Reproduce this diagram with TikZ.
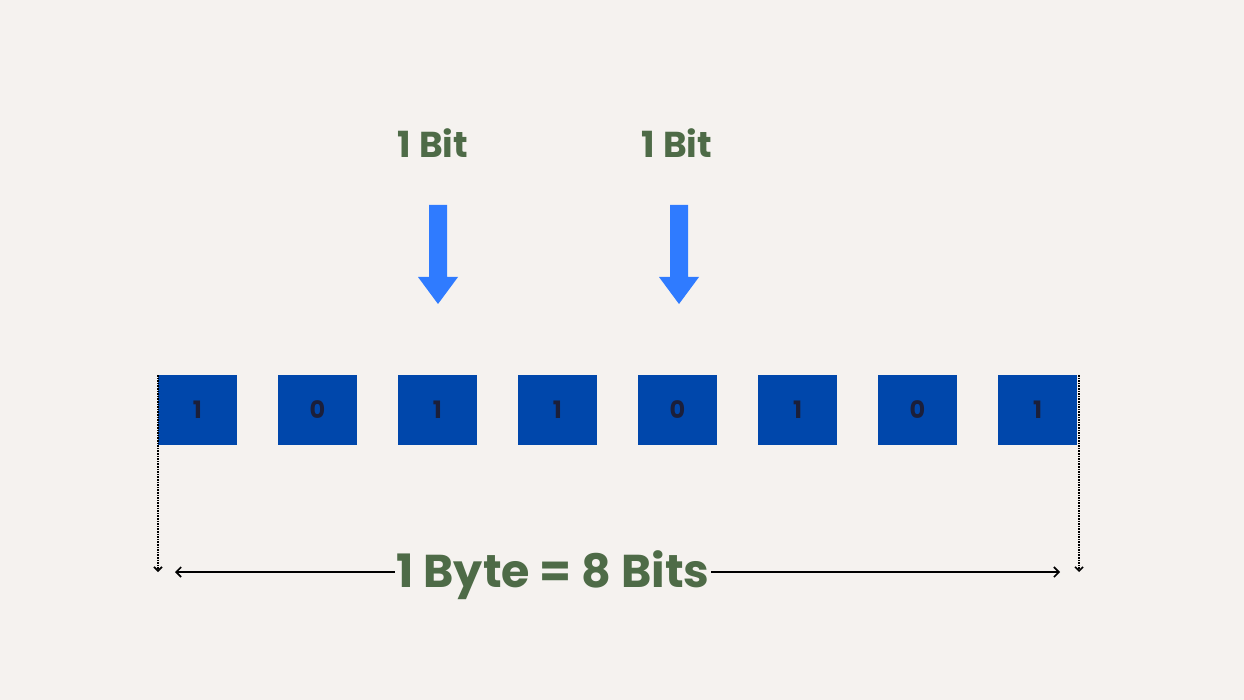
\documentclass[tikz,border=0pt]{standalone}
\usepackage{fontspec}
\setmainfont{Poppins}
\usetikzlibrary{arrows.meta}
\definecolor{bg}{HTML}{F5F2EF}
\definecolor{boxblue}{HTML}{0047AB}
\definecolor{arrblue}{HTML}{2F7BFF}
\definecolor{lblgreen}{HTML}{4E6B47}
\definecolor{digit}{HTML}{1B1F3A}
\begin{document}
\begin{tikzpicture}[x=1pt,y=-1pt,
  bitbox/.style={fill=boxblue,minimum width=79pt,minimum height=70pt,inner sep=0pt,font=\fontsize{24}{24}\selectfont\bfseries,text=digit},
  bitlbl/.style={font=\fontsize{36}{36}\selectfont\bfseries,text=lblgreen},
  dotline/.style={densely dotted,line width=1.6pt,-{Straight Barb[length=4pt,width=8pt]}},
  bytearrow/.style={line width=1.6pt,{Straight Barb[length=5pt,width=10pt]}-{Straight Barb[length=5pt,width=10pt]}}]
\fill[bg] (0,0) rectangle (1244,700);
\useasboundingbox (0,0) rectangle (1244,700);
\foreach \d [count=\i from 0] in {1,0,1,1,0,1,0,1}
  \node[bitbox] (b\i) at (197.5+120*\i,410) {\d};
\node[bitlbl] (l1) at (433,143) {1 Bit};
\node[bitlbl] (l2) at (677,143) {1 Bit};
\foreach \x/\n in {438/a1,679/a2}{
  \fill[arrblue] (\x-9,205) -- (\x+9,205) -- (\x+9,277) -- (\x+20,277) -- (\x,304) -- (\x-20,277) -- (\x-9,277) -- cycle;
}
\coordinate (dl1) at (158,375);
\coordinate (dl2) at (158,572);
\coordinate (dr1) at (1079,375);
\coordinate (dr2) at (1079,572);
\draw[dotline] (dl1) -- (dl2);
\draw[dotline] (dr1) -- (dr2);
\coordinate (al) at (175,572);
\coordinate (ar) at (1060,572);
\draw[bytearrow] (al) -- (ar);
\node[font=\fontsize{46}{46}\selectfont\bfseries,text=lblgreen,fill=bg,inner xsep=2pt,inner ysep=0pt] (byte) at (553,575) {1 Byte = 8 Bits};
\end{tikzpicture}
\end{document}
